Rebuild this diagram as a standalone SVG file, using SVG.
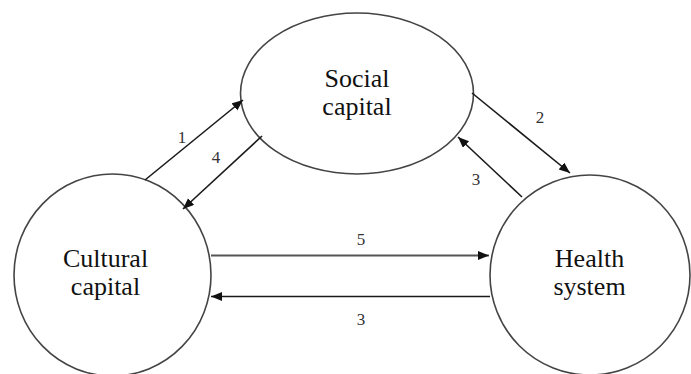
<svg xmlns="http://www.w3.org/2000/svg" width="691" height="374" viewBox="0 0 691 374">
<style>
.node{fill:#fff;stroke:#444;stroke-width:1.6}
.lbl{font-family:"Liberation Serif","Times New Roman",serif;font-size:26px;fill:#111;text-anchor:middle}
.num{font-family:"Liberation Serif","Times New Roman",serif;font-size:17px;fill:#333;text-anchor:middle}
.arr{stroke:#1a1a1a;stroke-width:1.6;fill:none;marker-end:url(#ah)}
</style>
<defs>
<marker id="ah" markerUnits="userSpaceOnUse" markerWidth="12" markerHeight="10" refX="11" refY="4.5" orient="auto">
<path d="M0,0 L11,4.5 L0,9 z" fill="#111"/>
</marker>
</defs>
<rect width="691" height="374" fill="#fff"/>
<g id="social">
<ellipse class="node" cx="357" cy="93.5" rx="116.5" ry="80.5"/>
<text class="lbl" x="357" y="87">Social</text>
<text class="lbl" x="357" y="115">capital</text>
</g>
<g id="cultural">
<ellipse class="node" cx="112.5" cy="275" rx="98.5" ry="101"/>
<text class="lbl" x="105.5" y="267">Cultural</text>
<text class="lbl" x="105.5" y="295">capital</text>
</g>
<g id="health">
<ellipse class="node" cx="590" cy="275" rx="100" ry="100"/>
<text class="lbl" x="589.5" y="267">Health</text>
<text class="lbl" x="589.5" y="295">system</text>
</g>
<g id="connectors">
<line class="arr" x1="145" y1="180" x2="243" y2="100"/>
<line class="arr" x1="262" y1="136" x2="183" y2="209"/>
<line class="arr" x1="472" y1="93" x2="570" y2="173"/>
<line class="arr" x1="522" y1="197" x2="458" y2="137"/>
<line class="arr" x1="211" y1="255.5" x2="489" y2="255.5" style="stroke:#555;stroke-width:2.2"/>
<line class="arr" x1="490" y1="296.5" x2="211" y2="296.5"/>
<text class="num" x="182" y="143">1</text>
<text class="num" x="216" y="163">4</text>
<text class="num" x="540" y="123">2</text>
<text class="num" x="476" y="185">3</text>
<text class="num" x="361" y="245">5</text>
<text class="num" x="361" y="325">3</text>
</g>
</svg>
